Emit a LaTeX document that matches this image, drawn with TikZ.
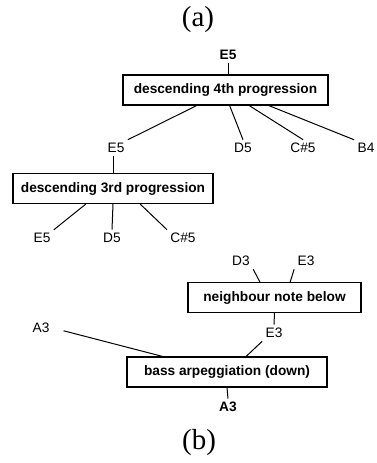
\documentclass[tikz,border=0pt]{standalone}
\usepackage{fontspec}
\setmainfont{Liberation Serif}
\newfontfamily\labfont{Liberation Sans}
\usetikzlibrary{positioning,calc}

\begin{document}
\begin{tikzpicture}[
		x=1pt, y=-1pt,
		line width=1pt,
		every node/.style={font=\labfont\fontsize{13.7}{16}\selectfont},
		rule/.style={draw, line width=1.1pt, minimum height=30pt, inner xsep=2pt,
			font=\labfont\bfseries\fontsize{13.7}{16}\selectfont},
		note/.style={inner sep=2pt, outer sep=1.5pt},
		head/.style={note, font=\labfont\bfseries\fontsize{13.7}{16}\selectfont},
		caption/.style={font=\fontsize{29}{32}\selectfont}
	]
	\useasboundingbox (0,0) rectangle (376,463);

	% (a): the two progressions
	\node[caption] (capa) at (198,20) {(a)};
	\node[rule, minimum width=205pt] (fourth) at (225.5,90) {descending 4th progression};
	\node[head] (top) at (228,55) {E5};
	\node[note] (e5a) at (116,148) {E5};
	\node[note] (d5a) at (243,148) {D5};
	\node[note] (cs5a) at (303,148) {C\#5};
	\node[note] (b4) at (366,148) {B4};

	\draw (top) -- (top |- fourth.north);
	\draw ($(fourth.south west)!0.36!(fourth.south east)$) -- (e5a.north east);
	\draw ($(fourth.south west)!0.52!(fourth.south east)$) -- (d5a.north);
	\draw ($(fourth.south west)!0.615!(fourth.south east)$) -- (cs5a.north);
	\draw ($(fourth.south west)!0.71!(fourth.south east)$) -- (b4.north west);

	\node[rule, minimum width=200pt] (third) at (113,188.5) {descending 3rd progression};
	\node[note] (e5b) at (42,238) {E5};
	\node[note] (d5b) at (112,238) {D5};
	\node[note] (cs5b) at (183,238) {C\#5};

	\draw (e5a.south -| third.north) -- (third.north);
	\draw ($(third.south west)!0.365!(third.south east)$) -- (e5b.north east);
	\draw ($(third.south west)!0.5!(third.south east)$) -- (d5b.north);
	\draw ($(third.south west)!0.635!(third.south east)$) -- (cs5b.north west);

	% (b): the bass
	\node[rule, minimum width=173pt] (nbr) at (274.5,297.5) {neighbour note below};
	\node[note] (d3) at (241,261) {D3};
	\node[note] (e3a) at (306,261) {E3};
	\node[note] (e3b) at (274,333) {E3};
	\node[note] (a3a) at (41,328) {A3};
	\node[rule, minimum width=200pt] (bass) at (227,372) {bass arpeggiation (down)};
	\node[head] (a3b) at (228,407) {A3};
	\node[caption] (capb) at (199,443) {(b)};

	\draw (d3.south east) -- ($(nbr.north west)!0.416!(nbr.north east)$);
	\draw (e3a.south west) -- ($(nbr.north west)!0.59!(nbr.north east)$);
	\draw (nbr.south) -- (e3b.north);
	\draw (e3b.south west) -- ($(bass.north west)!0.595!(bass.north east)$);
	\draw[shorten <=11pt] (a3a.east) -- ($(bass.north west)!0.18!(bass.north east)$);
	\draw (bass.south) -- (a3b.north);
\end{tikzpicture}
\end{document}
